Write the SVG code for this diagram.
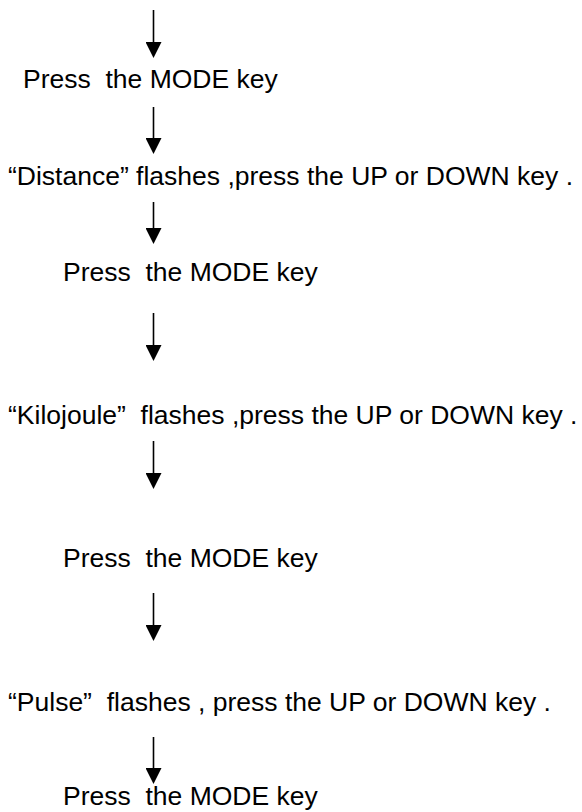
<svg xmlns="http://www.w3.org/2000/svg" width="582" height="812" viewBox="0 0 582 812">
<style>
  .t { font-family: "Liberation Sans", Arial, sans-serif; font-size: 26.5px; fill: #000; white-space: pre; }
  .c { stroke: #000; stroke-width: 1.6; fill: none; marker-end: url(#ah); }
</style>
<defs>
  <marker id="ah" viewBox="0 0 16 16" refX="12" refY="8" markerWidth="16" markerHeight="16" markerUnits="userSpaceOnUse" orient="auto">
    <path d="M0,0 L16,8 L0,16 Z" fill="#000"/>
  </marker>
</defs>
<rect width="582" height="812" fill="#fff"/>
<g id="connectors">
  <line class="c" x1="153.5" y1="10" x2="153.5" y2="54"/>
  <line class="c" x1="153.5" y1="107" x2="153.5" y2="150"/>
  <line class="c" x1="153.5" y1="202" x2="153.5" y2="240"/>
  <line class="c" x1="153.5" y1="313" x2="153.5" y2="357"/>
  <line class="c" x1="153.5" y1="441" x2="153.5" y2="485"/>
  <line class="c" x1="153.5" y1="593" x2="153.5" y2="637"/>
  <line class="c" x1="153.5" y1="737" x2="153.5" y2="780"/>
</g>
<g id="n1"><text class="t" x="23" y="88">Press  the MODE key</text></g>
<g id="n2"><text class="t" x="8" y="185">“Distance” flashes ,press the UP or DOWN key .</text></g>
<g id="n3"><text class="t" x="63" y="281">Press  the MODE key</text></g>
<g id="n4"><text class="t" x="8" y="424">“Kilojoule”  flashes ,press the UP or DOWN key .</text></g>
<g id="n5"><text class="t" x="63" y="567">Press  the MODE key</text></g>
<g id="n6"><text class="t" x="8" y="711">“Pulse”  flashes , press the UP or DOWN key .</text></g>
<g id="n7"><text class="t" x="63" y="805">Press  the MODE key</text></g>
</svg>
